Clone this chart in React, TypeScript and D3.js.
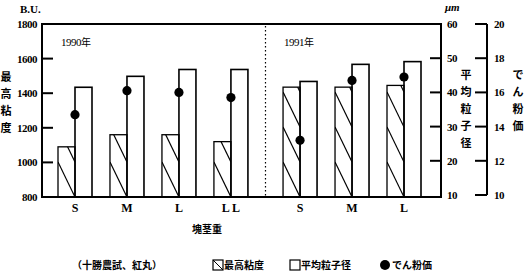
import React from "react";
import * as d3 from "d3";

const categories = ["S", "M", "L", "LL", "S", "M", "L"];
const years = [1990, 1990, 1990, 1990, 1991, 1991, 1991];
const viscosity = [1090, 1160, 1160, 1120, 1435, 1435, 1445];
const particleSize = [41.5, 44.7, 46.7, 46.7, 43.2, 48.2, 49.0];
const starchValue = [14.7, 16.1, 16.0, 15.7, 13.2, 16.7, 16.9];
const leftTicks = [800, 1000, 1200, 1400, 1600, 1800];
const midTicks = [10, 20, 30, 40, 50, 60];
const rightTicks = [10, 12, 14, 16, 18, 20];

const W = 530;
const H = 277;
const plot = { left: 42, right: 441, top: 24, bottom: 197 };
const axis2X = 487;
const barW = 17;
const yearGap = 0.33;

const jp = "'Noto Sans CJK JP', sans-serif";
const serif = "'Liberation Serif', 'DejaVu Serif', serif";

export default function App() {
  const slot = categories.map((_, i) => i + (years[i] === 1991 ? yearGap : 0));
  const x = d3.scaleLinear().domain([0, 6 + yearGap]).range([75, 404]);
  const yL = d3.scaleLinear().domain([800, 1800]).range([plot.bottom, plot.top]);
  const yM = d3.scaleLinear().domain([10, 60]).range([plot.bottom - 2, plot.top]);
  const yR = d3.scaleLinear().domain([10, 20]).range([plot.bottom - 2, plot.top]);

  const divX = (x(slot[3]) + barW + x(slot[4]) - barW) / 2;
  const hatchStep = 35;

  return (
    <svg width={W} height={H} style={{ display: "block", position: "absolute", left: 0, top: 0 }}>
      <rect width={W} height={H} fill="#fff" />
      <defs>
        {categories.map((_, i) => {
          const cx = x(slot[i]);
          return (
            <clipPath id={`clip${i}`} key={i}>
              <rect x={cx - barW} y={yL(viscosity[i])} width={barW} height={plot.bottom - yL(viscosity[i])} />
            </clipPath>
          );
        })}
        <clipPath id="clipLeg">
          <rect x={213} y={260} width={10} height={10} />
        </clipPath>
      </defs>

      {/* bars */}
      {categories.map((c, i) => {
        const cx = x(slot[i]);
        const yTop = yL(viscosity[i]);
        const lines = d3.range(0, 5).map((k) => plot.bottom - k * hatchStep);
        return (
          <g key={i}>
            <g clipPath={`url(#clip${i})`}>
              {lines.map((yb, k) => (
                <line key={k} x1={cx - barW} y1={yb - hatchStep} x2={cx} y2={yb} stroke="#000" strokeWidth={1.2} />
              ))}
            </g>
            <rect x={cx - barW} y={yTop} width={barW} height={plot.bottom - yTop} fill="none" stroke="#000" strokeWidth={1.3} />
            <rect x={cx} y={yM(particleSize[i])} width={barW} height={plot.bottom - yM(particleSize[i])} fill="none" stroke="#000" strokeWidth={1.6} />
            <circle cx={cx} cy={yR(starchValue[i])} r={4.6} fill="#000" />
            <text x={cx} y={212} fontFamily={serif} fontWeight="bold" fontSize={12} textAnchor="middle">
              {c === "LL" ? "L L" : c}
            </text>
          </g>
        );
      })}

      {/* divider */}
      <line x1={divX} x2={divX} y1={plot.top + 2} y2={plot.bottom} stroke="#000" strokeWidth={1.2} strokeDasharray="1.5,2.5" />

      {/* frame */}
      <path
        d={`M${plot.left},${plot.bottom}V${plot.top}H${plot.right}V${plot.bottom}Z`}
        fill="none"
        stroke="#000"
        strokeWidth={2}
      />
      {leftTicks.slice(1, -1).map((t) => (
        <line key={t} x1={plot.left} x2={plot.left + 11} y1={yL(t)} y2={yL(t)} stroke="#000" strokeWidth={2} />
      ))}
      {leftTicks.map((t) => (
        <text key={t} x={37} y={yL(t) + 4} fontFamily={serif} fontWeight="bold" fontSize={11} textAnchor="end" letterSpacing={-0.5}>
          {t}
        </text>
      ))}
      {midTicks.slice(1, -1).map((t) => (
        <line key={t} x1={plot.right - 11} x2={plot.right} y1={yM(t)} y2={yM(t)} stroke="#000" strokeWidth={2} />
      ))}
      {midTicks.map((t) => (
        <text key={t} x={447} y={yM(t) + 4} fontFamily={serif} fontWeight="bold" fontSize={11} letterSpacing={-0.5}>
          {t}
        </text>
      ))}

      {/* second right axis */}
      <line x1={axis2X} x2={axis2X} y1={plot.top} y2={plot.bottom - 2} stroke="#000" strokeWidth={2} />
      {rightTicks.map((t) => (
        <line key={t} x1={axis2X - 12} x2={axis2X} y1={yR(t)} y2={yR(t)} stroke="#000" strokeWidth={2} />
      ))}
      {rightTicks.map((t) => (
        <text key={t} x={494} y={yR(t) + 4} fontFamily={serif} fontWeight="bold" fontSize={11} letterSpacing={-0.5}>
          {t}
        </text>
      ))}

      {/* unit labels */}
      <text x={20} y={13} fontFamily={serif} fontWeight="bold" fontSize={11}>B.U.</text>
      <text x={445} y={11} fontFamily={serif} fontStyle="italic" fontWeight="bold" fontSize={11}>μm</text>

      {/* vertical titles */}
      {"最高粘度".split("").map((ch, k) => (
        <text key={k} x={6} y={81 + k * 17} fontFamily={jp} fontWeight="bold" fontSize={11} textAnchor="middle">{ch}</text>
      ))}
      {"平均粒子径".split("").map((ch, k) => (
        <text key={k} x={466} y={79 + k * 17} fontFamily={jp} fontWeight="bold" fontSize={11} textAnchor="middle">{ch}</text>
      ))}
      {"でん粉価".split("").map((ch, k) => (
        <text key={k} x={518} y={79 + k * 17} fontFamily={jp} fontWeight="bold" fontSize={11} textAnchor="middle">{ch}</text>
      ))}

      {/* year labels */}
      <text x={61} y={46} fontFamily={serif} fontSize={11} letterSpacing={-0.5}>1990<tspan fontFamily={jp} fontSize={10}>年</tspan></text>
      <text x={284} y={46} fontFamily={serif} fontSize={11} letterSpacing={-0.5}>1991<tspan fontFamily={jp} fontSize={10}>年</tspan></text>

      {/* x title */}
      <text x={207} y={233} fontFamily={jp} fontWeight="bold" fontSize={10} textAnchor="middle">塊茎重</text>

      {/* legend */}
      <text x={72} y={269} fontFamily={jp} fontWeight="bold" fontSize={10}>（十勝農試、紅丸）</text>
      <g clipPath="url(#clipLeg)">
        <line x1={213} y1={260} x2={223} y2={270} stroke="#000" strokeWidth={1} />
      </g>
      <rect x={213} y={260} width={10} height={10} fill="none" stroke="#000" strokeWidth={1.2} />
      <text x={224} y={269} fontFamily={jp} fontWeight="bold" fontSize={10}>最高粘度</text>
      <rect x={290} y={260} width={10} height={10} fill="none" stroke="#000" strokeWidth={1.2} />
      <text x={301} y={269} fontFamily={jp} fontWeight="bold" fontSize={10}>平均粒子径</text>
      <circle cx={385} cy={265} r={5} fill="#000" />
      <text x={392} y={269} fontFamily={jp} fontWeight="bold" fontSize={10}>でん粉価</text>
    </svg>
  );
}
